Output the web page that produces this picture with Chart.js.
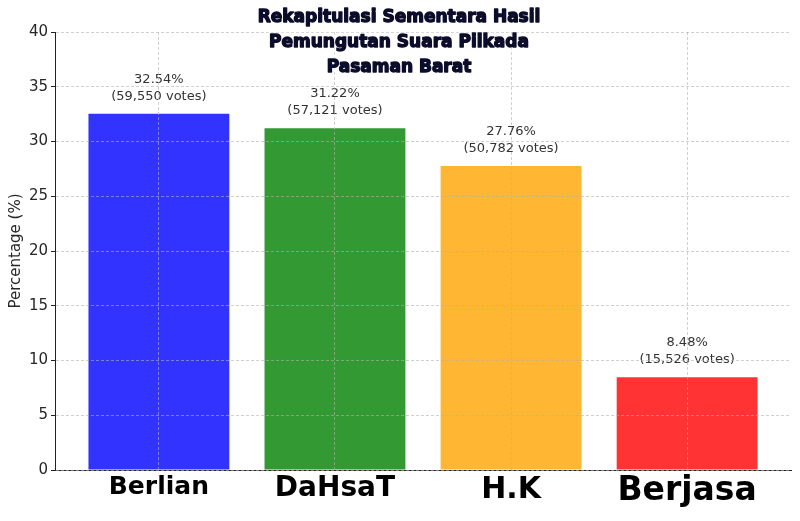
<!DOCTYPE html>
<html>
<head>
<meta charset="utf-8">
<script src="https://cdn.jsdelivr.net/npm/chart.js@4"></script>
<style>
  html, body { margin: 0; padding: 0; background: #fff; }
  #wrap { width: 800px; height: 521px; }
</style>
</head>
<body>
<div id="wrap"><canvas id="chart"></canvas></div>
<script>
// data
const categories = ['Berlian', 'DaHsaT', 'H.K', 'Berjasa'];
const percentages = [32.54, 31.22, 27.76, 8.48];
const votes = [59550, 57121, 50782, 15526];
const barColors = ['rgba(0,0,255,0.8)', 'rgba(0,128,0,0.8)', 'rgba(255,165,0,0.8)', 'rgba(255,0,0,0.8)'];
const labelSizes = [25, 28, 30, 33];
const titleLines = ['Rekapitulasi Sementara Hasil', 'Pemungutan Suara Pilkada', 'Pasaman Barat'];

// tulisan persen + suara di atas batang
const valueLabels = {
    id: 'valueLabels',
    afterDatasetsDraw(chart) {
        const ctx = chart.ctx;
        const y = chart.scales.y;
        const meta = chart.getDatasetMeta(0);
        ctx.save();
        ctx.font = '13px "DejaVu Sans"';
        ctx.fillStyle = '#333';
        ctx.textAlign = 'center';
        ctx.textBaseline = 'bottom';
        meta.data.forEach((bar, i) => {
            const bottom = y.getPixelForValue(percentages[i] + 1);
            ctx.fillText('(' + votes[i].toLocaleString('en-US') + ' votes)', bar.x, bottom);
            ctx.fillText(percentages[i].toFixed(2) + '%', bar.x, bottom - 17);
        });
        ctx.restore();
    }
};

// judul dengan efek glow putih
const glowTitle = {
    id: 'glowTitle',
    afterDraw(chart) {
        const ctx = chart.ctx;
        ctx.save();
        ctx.font = 'bold 17px "DejaVu Sans"';
        ctx.textAlign = 'center';
        ctx.textBaseline = 'middle';
        ctx.fillStyle = '#0b0d2a';
        ctx.strokeStyle = '#0b0d2a';
        ctx.lineWidth = 1.3;
        ctx.lineJoin = 'round';
        titleLines.forEach((t, i) => {
            const ty = 18 + i * 25;
            ctx.shadowColor = 'rgba(255,255,255,1)';
            ctx.shadowBlur = 10;
            ctx.fillText(t, 399, ty);
            ctx.fillText(t, 399, ty);
            ctx.shadowBlur = 0;
            ctx.strokeText(t, 399, ty);
        });
        ctx.restore();
    }
};

const ctx = document.getElementById('chart').getContext('2d');
const myChart = new Chart(ctx, {
    type: 'bar',
    data: {
        datasets: [{
            data: percentages.map((v, i) => ({ x: i, y: v })),
            backgroundColor: barColors,
            borderWidth: 0,
            barPercentage: 0.8,
            categoryPercentage: 1.0
        }]
    },
    options: {
        responsive: true,
        maintainAspectRatio: false,
        animation: false,
        layout: { padding: { left: 0, right: 9, top: 32, bottom: 0 } },
        plugins: {
            legend: { display: false },
            tooltip: { enabled: false }
        },
        scales: {
            x: {
                type: 'linear',
                min: -0.59,
                max: 3.59,
                offset: false,
                afterBuildTicks: (scale) => {
                    scale.ticks = categories.map((c, i) => ({ value: i }));
                },
                afterFit: (scale) => { scale.height = 51; },
                grid: {
                    offset: false,
                    color: 'rgba(176,176,176,0.6)',
                    lineWidth: 1,
                    drawTicks: false,
                    z: 1
                },
                border: { display: true, color: '#222', width: 1, dash: [3, 2], z: 1 },
                ticks: {
                    padding: 2,
                    color: '#000',
                    maxRotation: 0,
                    autoSkip: false,
                    font: (c) => ({ family: '"DejaVu Sans"', weight: 'bold', size: labelSizes[c.index] || 25 }),
                    callback: (v) => categories[v]
                }
            },
            y: {
                min: 0,
                max: 40,
                afterFit: (scale) => { scale.width = 55; },
                grid: {
                    color: 'rgba(176,176,176,0.6)',
                    lineWidth: 1,
                    tickLength: 4,
                    tickColor: '#222',
                    z: 1
                },
                border: { display: true, color: '#222', width: 1, dash: [3, 2], z: 1 },
                ticks: {
                    stepSize: 5,
                    padding: 3,
                    color: '#262626',
                    font: { family: '"DejaVu Sans"', size: 15 }
                },
                title: {
                    display: true,
                    text: 'Percentage (%)',
                    color: '#262626',
                    font: { family: '"DejaVu Sans"', size: 15 },
                    padding: { top: 7, bottom: 0 }
                }
            }
        }
    },
    plugins: [valueLabels, glowTitle]
});
</script>
</body>
</html>
